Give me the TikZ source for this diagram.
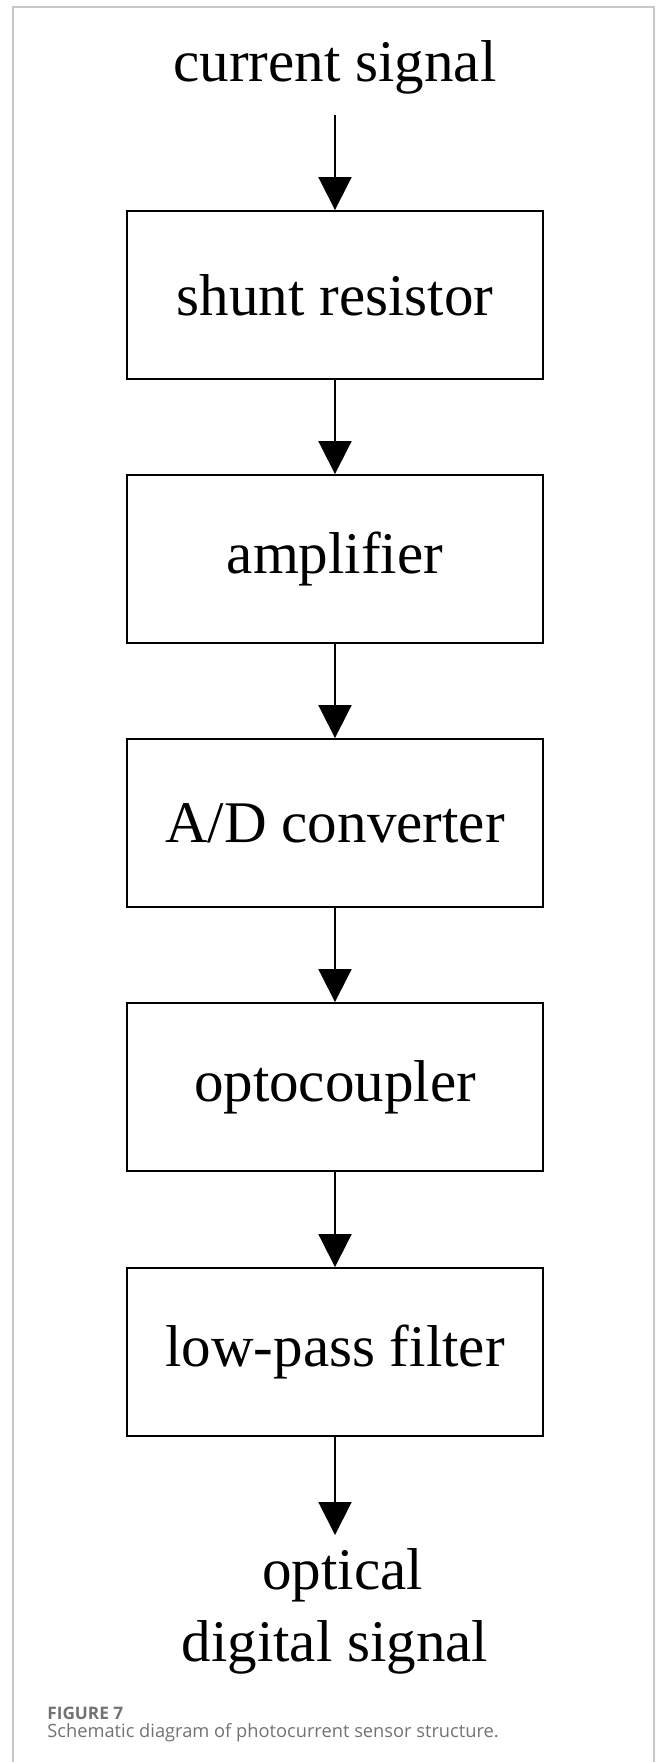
\documentclass[tikz,border=0pt]{standalone}
\usepackage{fontspec}
\setmainfont{Liberation Serif}
\newfontfamily\capfont{Open Sans}
\usetikzlibrary{arrows.meta}

\definecolor{framegray}{HTML}{C8C8C8}
\definecolor{capgray}{HTML}{727272}

\tikzset{
  block/.style={rectangle, draw, line width=1.1pt, minimum width=8.32cm, minimum height=3.36cm, inner sep=0pt},
  flow/.style={-{Triangle[width=0.66cm,length=0.66cm]}, line width=1.1pt},
  sig/.style={inner sep=0pt, align=center},
  caption/.style={anchor=base west, inner sep=0pt, text=capgray, font=\capfont\fontsize{10.4}{13}\selectfont},
}

\begin{document}
\begin{tikzpicture}[x=0.02cm, y=-0.02cm, font=\fontsize{33.6}{41}\selectfont]
\useasboundingbox (0,0) rectangle (656,1762);
\draw[framegray, line width=0.7pt] (13,1762) -- (13,7) -- (654,7) -- (654,1762);

% signal chain
\node[sig, anchor=base] (cur) at (335,81) {current signal};
\node[block] (shunt) at (335,295) {shunt resistor};
\node[block] (amp) at (335,559) {amplifier};
\node[block] (adc) at (335,823) {A/D converter};
\node[block] (opto) at (335,1087) {optocoupler};
\node[block] (lpf) at (335,1352) {low-pass filter};
\node[sig, anchor=north] (out) at (335,1548) {\hspace*{0.3cm}optical\\digital signal};

\draw[flow, shorten <=0.42cm] (cur) -- (shunt);
\draw[flow] (shunt) -- (amp);
\draw[flow] (amp) -- (adc);
\draw[flow] (adc) -- (opto);
\draw[flow] (opto) -- (lpf);
\draw[flow, shorten >=0.26cm] (lpf) -- (out);

% caption
\node[caption, font=\capfont\bfseries\fontsize{9.8}{12}\selectfont] (fig) at (47,1719) {FIGURE 7};
\node[caption] (cap) at (47,1737) {Schematic diagram of photocurrent sensor structure.};
\end{tikzpicture}
\end{document}
